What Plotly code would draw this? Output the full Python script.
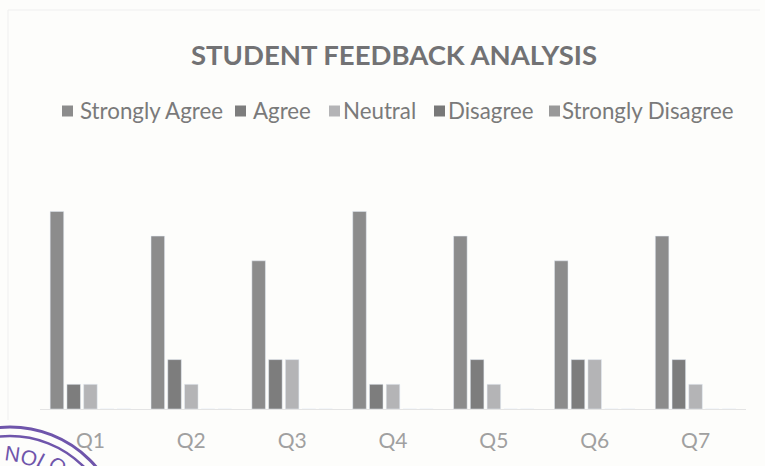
import plotly.graph_objects as go

questions = ["Q1", "Q2", "Q3", "Q4", "Q5", "Q6", "Q7"]
strongly_agree = [8, 7, 6, 8, 7, 6, 7]
agree = [1, 2, 2, 1, 2, 2, 2]
neutral = [1, 1, 2, 1, 1, 2, 1]
disagree = [0, 0, 0, 0, 0, 0, 0]
strongly_disagree = [0, 0, 0, 0, 0, 0, 0]

series = [
    ("Strongly Agree", strongly_agree, "#8c8c8c"),
    ("Agree", agree, "#7d7d7d"),
    ("Neutral", neutral, "#b4b4b6"),
    ("Disagree", disagree, "#787878"),
    ("Strongly Disagree", strongly_disagree, "#999999"),
]

W, H = 765, 466
LEFT, RIGHT, TOP, BOTTOM = 40, 19, 162, 57
STAMP = "#6f55ab"

# swatch and label x positions of the hand placed legend row
legend_swatch_x = [62, 235, 329, 434, 549]
legend_text_x = [78, 251, 341, 446, 560]
LEGEND_Y = 111


def px(x):
    return (x - LEFT) / (W - LEFT - RIGHT)


def py(y):
    return (H - BOTTOM - y) / (H - TOP - BOTTOM)


fig = go.Figure()
for name, values, color in series:
    fig.add_trace(go.Bar(x=questions, y=values, name=name, marker_color=color))

fig.update_layout(
    width=W,
    height=H,
    autosize=False,
    margin=dict(l=LEFT, r=RIGHT, t=TOP, b=BOTTOM),
    paper_bgcolor="#fdfdfb",
    plot_bgcolor="rgba(0,0,0,0)",
    font=dict(family="Lato", color="#7f7f7f"),
    barmode="group",
    bargap=0.17,
    bargroupgap=0.19,
    showlegend=False,
    title=dict(
        text="<b>STUDENT FEEDBACK ANALYSIS</b>",
        x=394 / W,
        xanchor="center",
        y=1 - 55 / H,
        yanchor="middle",
        font=dict(size=27.5, color="#727274", family="Lato"),
    ),
)
fig.update_xaxes(
    showline=True,
    linecolor="#e4e4e4",
    linewidth=1,
    showgrid=False,
    ticks="",
    ticklabelstandoff=13,
    tickfont=dict(size=21, color="#a0a0a0"),
)
fig.update_yaxes(range=[0, 10], visible=False)

for (name, values, color), sx, tx in zip(series, legend_swatch_x, legend_text_x):
    fig.add_shape(type="rect", xref="paper", yref="paper",
                  x0=px(sx), x1=px(sx + 11), y0=py(LEGEND_Y + 5.5), y1=py(LEGEND_Y - 5.5),
                  fillcolor=color, line_width=0)
    fig.add_annotation(text=name, xref="paper", yref="paper", x=px(tx), y=py(LEGEND_Y),
                       xanchor="left", yanchor="middle", showarrow=False,
                       font=dict(size=22.3, color="#7a7a7a"))

# page frame and the ink stamp cut off in the corner of the scan
fig.add_shape(type="line", xref="paper", yref="paper", x0=px(8), x1=px(8), y0=py(10), y1=py(420),
              line=dict(color="#efefef", width=1), layer="below")
fig.add_shape(type="line", xref="paper", yref="paper", x0=px(8), x1=px(760), y0=py(10), y1=py(10),
              line=dict(color="#efefef", width=1), layer="below")
for r, w in [(113, 3), (104, 2.5)]:
    fig.add_shape(type="circle", xref="paper", yref="paper",
                  x0=px(10 - r), x1=px(10 + r), y0=py(540 + r), y1=py(540 - r),
                  line=dict(color=STAMP, width=w), layer="above")
for ch, x, y, ang in [("N", 12, 453, 8), ("O", 29, 457, 18), ("L", 44, 461, 28), ("O", 58, 465, 36)]:
    fig.add_annotation(text=ch, xref="paper", yref="paper", x=px(x), y=py(y), showarrow=False,
                       xanchor="center", yanchor="middle", textangle=ang,
                       font=dict(size=21, color=STAMP, family="Liberation Sans"))

fig.write_html("out.html", config={"displayModeBar": False},
               post_script="document.body.style.margin='0'")
